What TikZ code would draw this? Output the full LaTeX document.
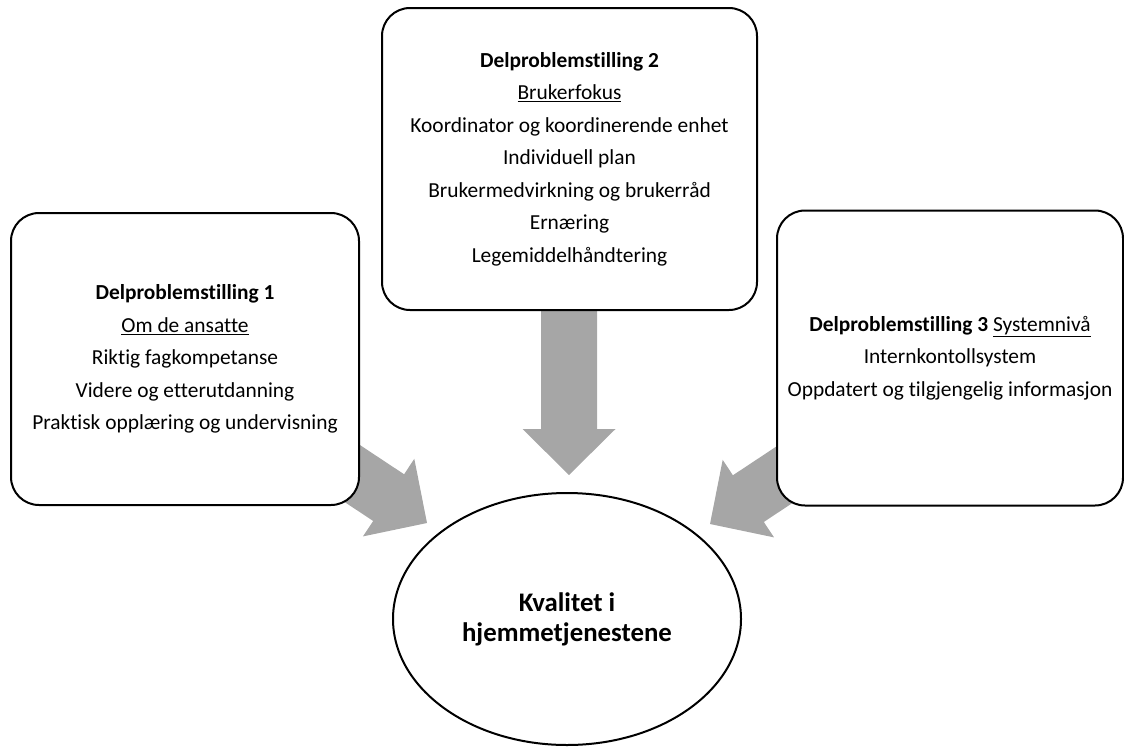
\documentclass[tikz,border=0pt]{standalone}
\usepackage{fontspec}
\setmainfont[Ligatures=NoCommon]{Carlito}
\usetikzlibrary{shapes.geometric}
\definecolor{arrowgrey}{HTML}{A6A6A6}
\tikzset{
  boxstyle/.style={draw=black, line width=2pt, fill=white, rounded corners=28pt, align=center,
    font=\fontsize{21.4}{32.5}\selectfont, inner sep=0pt},
  ellstyle/.style={draw=black, line width=2pt, fill=white, ellipse, align=center,
    font=\fontsize{26.8}{30}\selectfont\bfseries, inner sep=0pt},
  blockarrow/.style={fill=arrowgrey, draw=none}
}
\newcommand{\blockarr}[4]{% tip x, tip y, angle, shaft length
  \begin{scope}[shift={(#1,#2)}, rotate=#3]
    \fill[blockarrow] (0,0) -- (-46,46.5) -- (-46,28) -- (-#4,28) -- (-#4,-28) -- (-46,-28) -- (-46,-46.5) -- cycle;
  \end{scope}}
\begin{document}
\begin{tikzpicture}[x=1pt,y=-1pt]
\useasboundingbox (0,0) rectangle (1124,747);
% arrows (drawn first, boxes cover their tails)
\blockarr{427}{523}{-33.5}{160}
\blockarr{569}{475}{-90}{170}
\blockarr{710}{524}{-146.5}{160}
% boxes
\node[boxstyle, minimum width=348pt, minimum height=292pt] (b1) at (185,359)
  {\textbf{Delproblemstilling 1}\\\underline{Om de ansatte}\\Riktig fagkompetanse\\Videre og etterutdanning\\Praktisk opplæring og undervisning};
\node[boxstyle, minimum width=375pt, minimum height=302pt] (b2) at (569.5,159)
  {\textbf{Delproblemstilling 2}\\\underline{Brukerfokus}\\Koordinator og koordinerende enhet\\Individuell plan\\Brukermedvirkning og brukerråd\\Ernæring\\Legemiddelhåndtering};
\node[boxstyle, minimum width=346pt, minimum height=295pt] (b3) at (950,358)
  {\textbf{Delproblemstilling 3} \underline{Systemnivå}\\Internkontollsystem\\Oppdatert og tilgjengelig informasjon};
% ellipse
\node[ellstyle, minimum width=348pt, minimum height=252pt] (k) at (567,619)
  {Kvalitet i\\hjemmetjenestene};
\end{tikzpicture}
\end{document}
